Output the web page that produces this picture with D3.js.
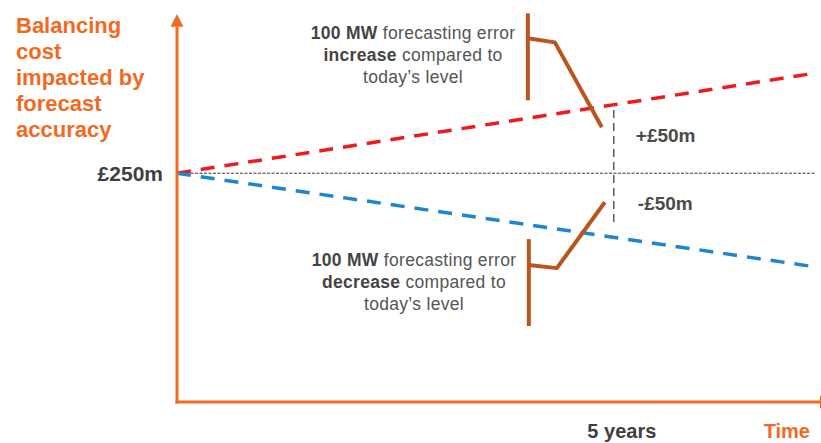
<!DOCTYPE html>
<html><head><meta charset="utf-8">
<script src="https://cdn.jsdelivr.net/npm/d3@7"></script>
<style>
html,body{margin:0;padding:0;background:#fff;}
svg{display:block;font-family:"Liberation Sans",Arial,sans-serif;}
</style></head>
<body>
<svg id="chart" width="821" height="443"></svg>
<script>
// ---- data ----
const years = [0, 7.28];
const increaseCost = [250, 359];
const decreaseCost = [250, 148];
const baselineCost = 250;
const markerYear = 5;
const markerRange = [193, 319];
const titleLines = ["Balancing", "cost", "impacted by", "forecast", "accuracy"];
const baselineLabel = "£250m";
const markerLabel = "5 years";
const timeLabel = "Time";
const plusLabel = "+£50m";
const minusLabel = "-£50m";
const upperNote = [["100 MW", " forecasting error"], ["increase", " compared to"], ["", "today’s level"]];
const lowerNote = [["100 MW", " forecasting error"], ["decrease", " compared to"], ["", "today’s level"]];
// callout brackets, in (years, £m)
const upperBracketStem = [[4.016, 424.7], [4.016, 329.7]];
const upperBracketArm = [[4.016, 397.4], [4.325, 393.0], [4.863, 300.2]];
const lowerBracketStem = [[4.027, 178], [4.027, 83]];
const lowerBracketArm = [[4.027, 149.6], [4.348, 146.3], [4.897, 218.3]];

// ---- scales ----
const svg = d3.select("#chart");
const x = d3.scaleLinear().domain([0, 7.36]).range([177, 820]);
const y = d3.scaleLinear().domain([0, 424]).range([402, 14]);
const orange = "#F26A21";
const brown = "#B9561F";
const line = d3.line().x(d => x(d[0])).y(d => y(d[1]));

// baseline dotted
svg.append("line")
  .attr("x1", x(0)).attr("x2", 815)
  .attr("y1", y(baselineCost)).attr("y2", y(baselineCost))
  .attr("stroke", "#333").attr("stroke-width", 1).attr("stroke-dasharray", "3,1.5");

// vertical marker dashed
svg.append("line")
  .attr("x1", x(markerYear)).attr("x2", x(markerYear))
  .attr("y1", y(markerRange[1])).attr("y2", y(markerRange[0]))
  .attr("stroke", "#333").attr("stroke-width", 1.2).attr("stroke-dasharray", "8,5");

// series
svg.append("path").datum(years.map((t, i) => [t, increaseCost[i]]))
  .attr("d", line).attr("fill", "none").attr("stroke", "#F2191B")
  .attr("stroke-width", 3.5).attr("stroke-dasharray", "14,10");
svg.append("path").datum(years.map((t, i) => [t, decreaseCost[i]]))
  .attr("d", line).attr("fill", "none").attr("stroke", "#1C86CE")
  .attr("stroke-width", 3.5).attr("stroke-dasharray", "14,10");

// brackets
[upperBracketStem, upperBracketArm, lowerBracketStem, lowerBracketArm].forEach(pts => {
  svg.append("path").datum(pts).attr("d", line).attr("fill", "none")
    .attr("stroke", brown).attr("stroke-width", 4).attr("stroke-linejoin", "round");
});

// axes
const x0 = x(0), y0 = y(0);
svg.append("line").attr("x1", x0).attr("x2", x0).attr("y1", y0 + 1.5).attr("y2", y(410))
  .attr("stroke", orange).attr("stroke-width", 3);
svg.append("path").attr("d", `M${x0},${y(424)}L${x0 - 6.5},${y(410)}L${x0 + 6.5},${y(410)}Z`).attr("fill", orange);
svg.append("line").attr("x1", x0 - 1.5).attr("x2", 822).attr("y1", y0).attr("y2", y0)
  .attr("stroke", orange).attr("stroke-width", 3);
svg.append("path").attr("d", `M820,${y0 - 6.5}L833,${y0}L820,${y0 + 6.5}Z`).attr("fill", orange);

// title
svg.append("text").attr("fill", orange).attr("font-weight", "bold").attr("font-size", 22)
  .selectAll("tspan").data(titleLines).join("tspan")
  .attr("x", 16).attr("y", (d, i) => 33 + i * 26).text(d => d);

// labels
svg.append("text").attr("x", 163).attr("y", y(baselineCost) + 8).attr("text-anchor", "end")
  .attr("font-size", 21).attr("font-weight", "bold").attr("fill", "#3f3f3f").text(baselineLabel);
svg.append("text").attr("x", x(markerYear) + 8).attr("y", 438).attr("text-anchor", "middle")
  .attr("font-size", 20).attr("font-weight", "bold").attr("fill", "#3f3f3f").text(markerLabel);
svg.append("text").attr("x", 810).attr("y", 438).attr("text-anchor", "end")
  .attr("font-size", 20).attr("font-weight", "bold").attr("fill", orange).text(timeLabel);
svg.append("text").attr("x", x(markerYear) + 22).attr("y", 142)
  .attr("font-size", 19).attr("font-weight", "bold").attr("fill", "#4a4a4a").text(plusLabel);
svg.append("text").attr("x", x(markerYear) + 24).attr("y", 210)
  .attr("font-size", 19).attr("font-weight", "bold").attr("fill", "#4a4a4a").text(minusLabel);

function note(lines, cx, top) {
  lines.forEach((ln, i) => {
    const t = svg.append("text").attr("x", cx).attr("y", top + i * 22).attr("text-anchor", "middle")
      .attr("font-size", 17.5).attr("letter-spacing", 0.3).attr("fill", "#555");
    if (ln[0]) t.append("tspan").attr("font-weight", "bold").attr("fill", "#444").text(ln[0]);
    t.append("tspan").text(ln[1]);
  });
}
note(upperNote, 413, 39);
note(lowerNote, 414, 266);
</script>
</body></html>
